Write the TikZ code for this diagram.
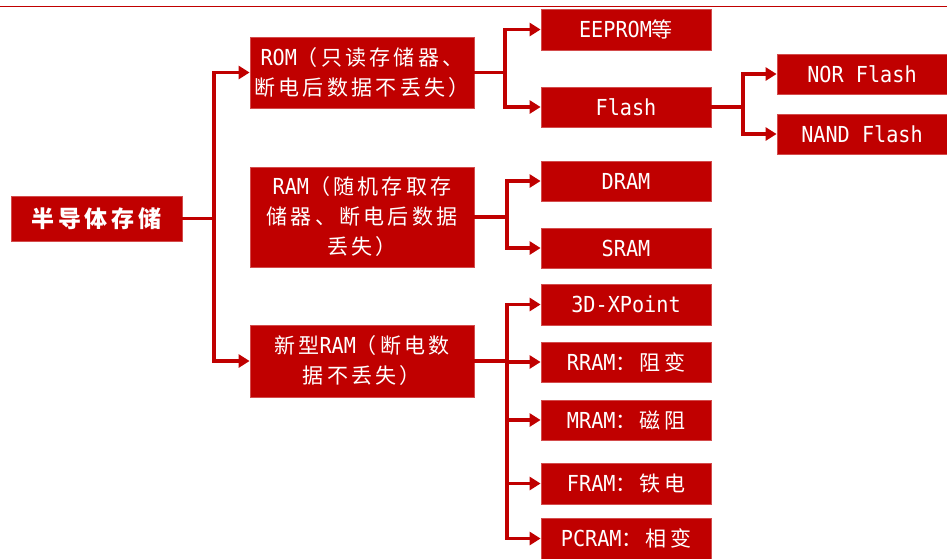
\documentclass[tikz,border=0pt]{standalone}
\usepackage{fontspec}
\usetikzlibrary{arrows.meta}
\newfontfamily\cjk[LetterSpace=15.5]{Noto Sans CJK SC}
\newfontfamily\lat[Scale=1.05, FakeStretch=0.915]{DejaVu Sans Mono}
\definecolor{boxred}{HTML}{C00000}
\begin{document}
\begin{tikzpicture}[x=1pt,y=-1pt,
  box/.style={fill=boxred, draw=boxred!70!white, line width=0.8pt, text=white,
    inner sep=0pt, align=center, font=\cjk\fontsize{21}{30}\selectfont},
  leaf/.style={box, minimum width=170pt, minimum height=40pt},
  mid/.style={box, minimum width=224pt},
  conn/.style={draw=boxred, line width=3.5pt},
  arr/.style={conn, -{Triangle[length=11pt,width=13pt]}}]
\useasboundingbox (0,0) rectangle (947,558);
\draw[boxred, line width=1.5pt] (0,6.5) -- (947,6.5);

\node[box, minimum width=171pt, minimum height=45pt,
  font=\cjk\bfseries\fontsize{23}{28}\selectfont] (root) at (96.5,218.5) {半导体存储};

\node[mid, minimum height=71pt] (rom) at (362,72.5) {{\lat ROM}（只读存储器、\\断电后数据不丢失）};
\node[mid, minimum height=100pt] (ram) at (362,217) {{\lat RAM}（随机存取存\\储器、断电后数据\\丢失）};
\node[mid, minimum height=72pt] (nram) at (362,361) {新型{\lat RAM}（断电数\\据不丢失）};

\node[leaf, minimum height=41pt] (eeprom) at (626,29.5) {{\lat EEPROM}等};
\node[leaf] (flash) at (626,107) {\lat Flash};
\node[leaf] (nor) at (862,74) {\lat NOR Flash};
\node[leaf] (nand) at (862,134) {\lat NAND Flash};
\node[leaf] (dram) at (626,181) {\lat DRAM};
\node[leaf] (sram) at (626,248) {\lat SRAM};
\node[leaf, minimum height=41pt] (xpoint) at (626,304.5) {\lat 3D-XPoint};
\node[leaf] (rram) at (626,362) {{\lat RRAM}：阻变};
\node[leaf] (mram) at (626,420) {{\lat MRAM}：磁阻};
\node[leaf, minimum height=41pt] (fram) at (626,483.5) {{\lat FRAM}：铁电};
\node[leaf, minimum height=41pt] (pcram) at (626,538.5) {{\lat PCRAM}：相变};

\coordinate (t0) at (214,218.5);
\draw[conn] (root.east) -- (t0);
\draw[arr] (t0) |- (rom.west);
\draw[arr] (t0) |- (nram.west);

\coordinate (t1) at (505,72.5);
\draw[conn] (rom.east) -- (t1);
\draw[arr] (t1) |- (eeprom.west);
\draw[arr] (t1) |- (flash.west);

\coordinate (t3) at (743,107);
\draw[conn] (flash.east) -- (t3);
\draw[arr] (t3) |- (nor.west);
\draw[arr] (t3) |- (nand.west);

\coordinate (t2) at (507,217);
\draw[conn] (ram.east) -- (t2);
\draw[arr] (t2) |- (dram.west);
\draw[arr] (t2) |- (sram.west);

\coordinate (t4) at (507,361);
\draw[conn] (nram.east) -- (t4);
\draw[arr] (t4) |- (xpoint.west);
\draw[arr] (t4) |- (rram.west);
\draw[arr] (t4) |- (mram.west);
\draw[arr] (t4) |- (fram.west);
\draw[arr] (t4) |- (pcram.west);
\end{tikzpicture}
\end{document}
